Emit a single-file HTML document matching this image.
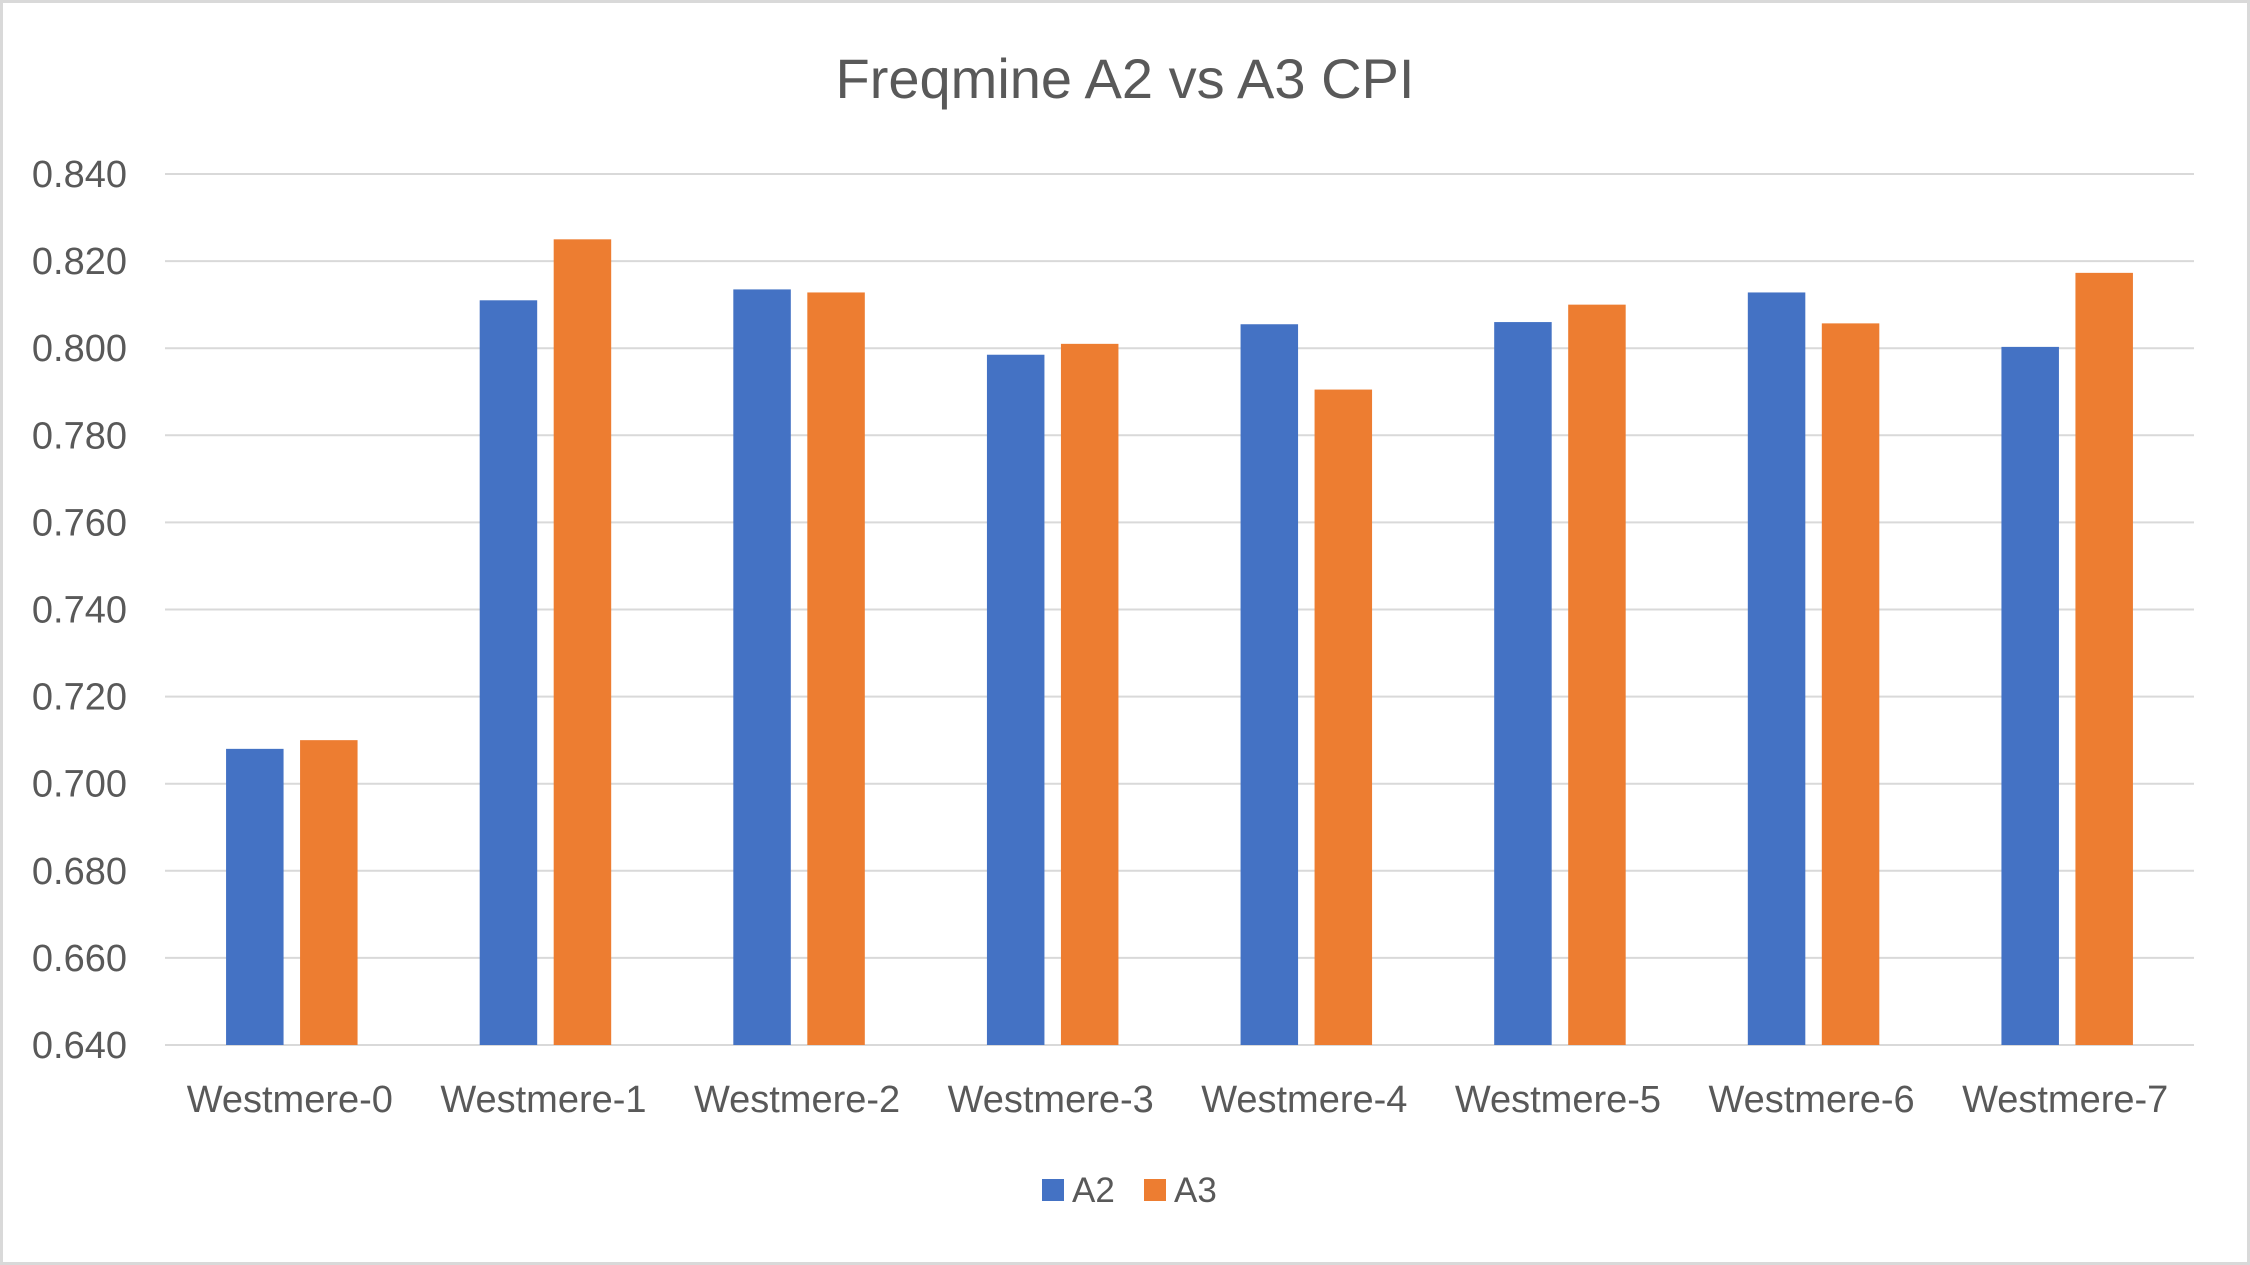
<!DOCTYPE html>
<html><head><meta charset="utf-8"><style>
html,body{margin:0;padding:0;background:#fff;}
svg{display:block;font-family:"Liberation Sans",sans-serif;}
</style></head><body>
<svg id="chart" width="2250" height="1265" xmlns="http://www.w3.org/2000/svg">
<rect x="1.5" y="1.5" width="2247" height="1262" fill="#fff" stroke="#d9d9d9" stroke-width="3"/>
<text x="1125" y="98" text-anchor="middle" font-size="56" fill="#595959">Freqmine A2 vs A3 CPI</text>
<g id="grid"></g><g id="bars"></g><g id="labels"></g>
<g>
<rect x="1042" y="1179" width="22" height="22" fill="#4472c4"/>
<text x="1072" y="1202" font-size="35" fill="#595959">A2</text>
<rect x="1144" y="1179" width="22" height="22" fill="#ed7d31"/>
<text x="1174" y="1202" font-size="35" fill="#595959">A3</text>
</g>
</svg>
<script>
const categories=["Westmere-0","Westmere-1","Westmere-2","Westmere-3","Westmere-4","Westmere-5","Westmere-6","Westmere-7"];
const seriesA2=[0.708,0.811,0.8135,0.7985,0.8055,0.806,0.8128,0.8003];
const seriesA3=[0.710,0.825,0.8128,0.801,0.7905,0.810,0.8057,0.8173];
const yTicks=[0.640,0.660,0.680,0.700,0.720,0.740,0.760,0.780,0.800,0.820,0.840];
const NS="http://www.w3.org/2000/svg";
const x0=165,x1=2194,yTop=174,yBot=1045,yMin=0.64,yMax=0.84;
const y=v=>yBot-(v-yMin)/(yMax-yMin)*(yBot-yTop);
const bw=(x1-x0)/categories.length;
const xc=i=>x0+bw*(i+0.5);
function mk(tag,attrs,parent){const e=document.createElementNS(NS,tag);for(const k in attrs)e.setAttribute(k,attrs[k]);parent.appendChild(e);return e;}
const grid=document.getElementById('grid'),bars=document.getElementById('bars'),labels=document.getElementById('labels');
yTicks.forEach(t=>{
 const l=mk('line',{x1:x0,x2:x1,y1:y(t),y2:y(t),stroke:'#d9d9d9','stroke-width':2},grid);
 
 
 const tx=mk('text',{x:127,y:y(t)+13,'text-anchor':'end','font-size':38,fill:'#595959'},labels);
 tx.textContent=t.toFixed(3);
 
 
});
const barW=57.5,off=37;
categories.forEach((c,i)=>{
 const b1=mk('rect',{x:xc(i)-off-barW/2,y:y(seriesA2[i]),width:barW,height:yBot-y(seriesA2[i]),fill:'#4472c4'},bars);
 
 
 const b2=mk('rect',{x:xc(i)+off-barW/2,y:y(seriesA3[i]),width:barW,height:yBot-y(seriesA3[i]),fill:'#ed7d31'},bars);
 
 
 const tx=mk('text',{x:xc(i)-2,y:1112,'text-anchor':'middle','font-size':38,fill:'#595959'},labels);
 tx.textContent=c;
 
 
});
</script>
</body></html>
